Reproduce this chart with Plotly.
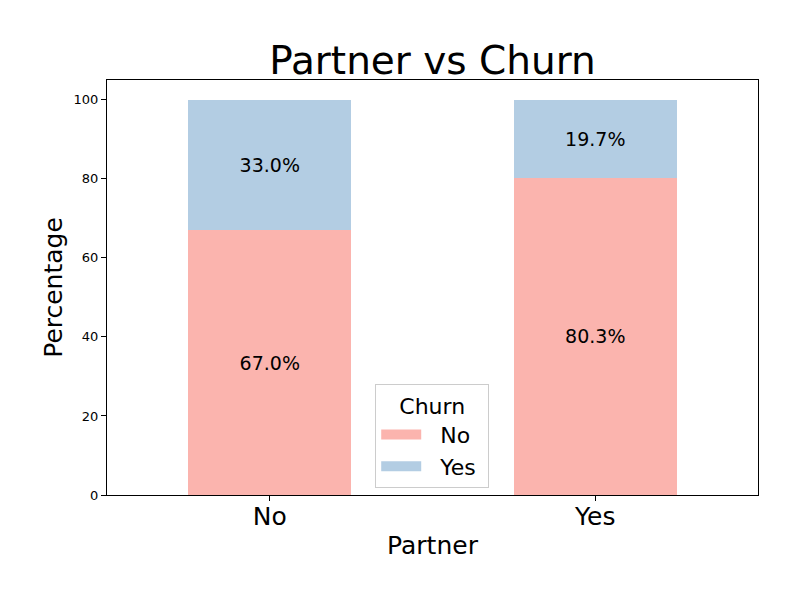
import plotly.graph_objects as go

partner = ["No", "Yes"]
churn_no = [67.0, 80.3]
churn_yes = [33.0, 19.7]
series_names = ["No", "Yes"]
colors = ["#fbb4ae", "#b3cde3"]
y_ticks = [0, 20, 40, 60, 80, 100]

FONT = "DejaVu Sans, Liberation Sans, sans-serif"

fig = go.Figure()
for name, vals, col in zip(series_names, [churn_no, churn_yes], colors):
    fig.add_trace(go.Bar(
        x=partner, y=vals, name=name, marker=dict(color=col, line=dict(width=0)),
        width=0.5, text=[f"{v:.1f}%" for v in vals], textposition="inside",
        insidetextanchor="middle", textangle=0,
        textfont=dict(family=FONT, size=19, color="black"),
        showlegend=False, hoverinfo="skip",
    ))
    # legend proxies (wide patches like matplotlib)
    fig.add_trace(go.Scatter(
        x=[None], y=[None], mode="lines", name="  " + name + " ",
        line=dict(color=col, width=15), showlegend=True,
    ))

fig.update_layout(
    barmode="stack",
    width=800, height=600,
    margin=dict(l=107, r=42, t=80, b=105),
    paper_bgcolor="white", plot_bgcolor="white",
    font=dict(family=FONT, color="black"),
    title=dict(text="Partner vs Churn", x=0.5, xref="paper", xanchor="center",
               y=1 - 60 / 600, yanchor="middle",
               font=dict(family=FONT, size=39, color="black")),
    xaxis=dict(
        range=[-0.5, 1.5], showline=True, linecolor="black", linewidth=1,
        mirror=True, ticks="outside", ticklen=5, tickcolor="black",
        tickfont=dict(size=25), showgrid=False, zeroline=False,
        ticklabelstandoff=-6,
        title=dict(text="Partner", font=dict(size=25), standoff=6),
    ),
    yaxis=dict(
        range=[0, 105], showline=True, linecolor="black", linewidth=1,
        mirror=True, ticks="outside", ticklen=5, tickcolor="black",
        tickvals=y_ticks, tickfont=dict(size=13), showgrid=False, zeroline=False,
        title=dict(text="Percentage", font=dict(size=25), standoff=3),
    ),
    legend=dict(
        x=0.412, y=0.267, xanchor="left", yanchor="top",
        bgcolor="white", bordercolor="#cccccc", borderwidth=1,
        traceorder="normal",
        font=dict(size=22), title=dict(text="Churn", side="top center", font=dict(size=22)),
        itemwidth=40, tracegroupgap=0,
    ),
)

fig.write_html("out.html", config={"displayModeBar": False},
               post_script="document.body.style.margin='0';")
